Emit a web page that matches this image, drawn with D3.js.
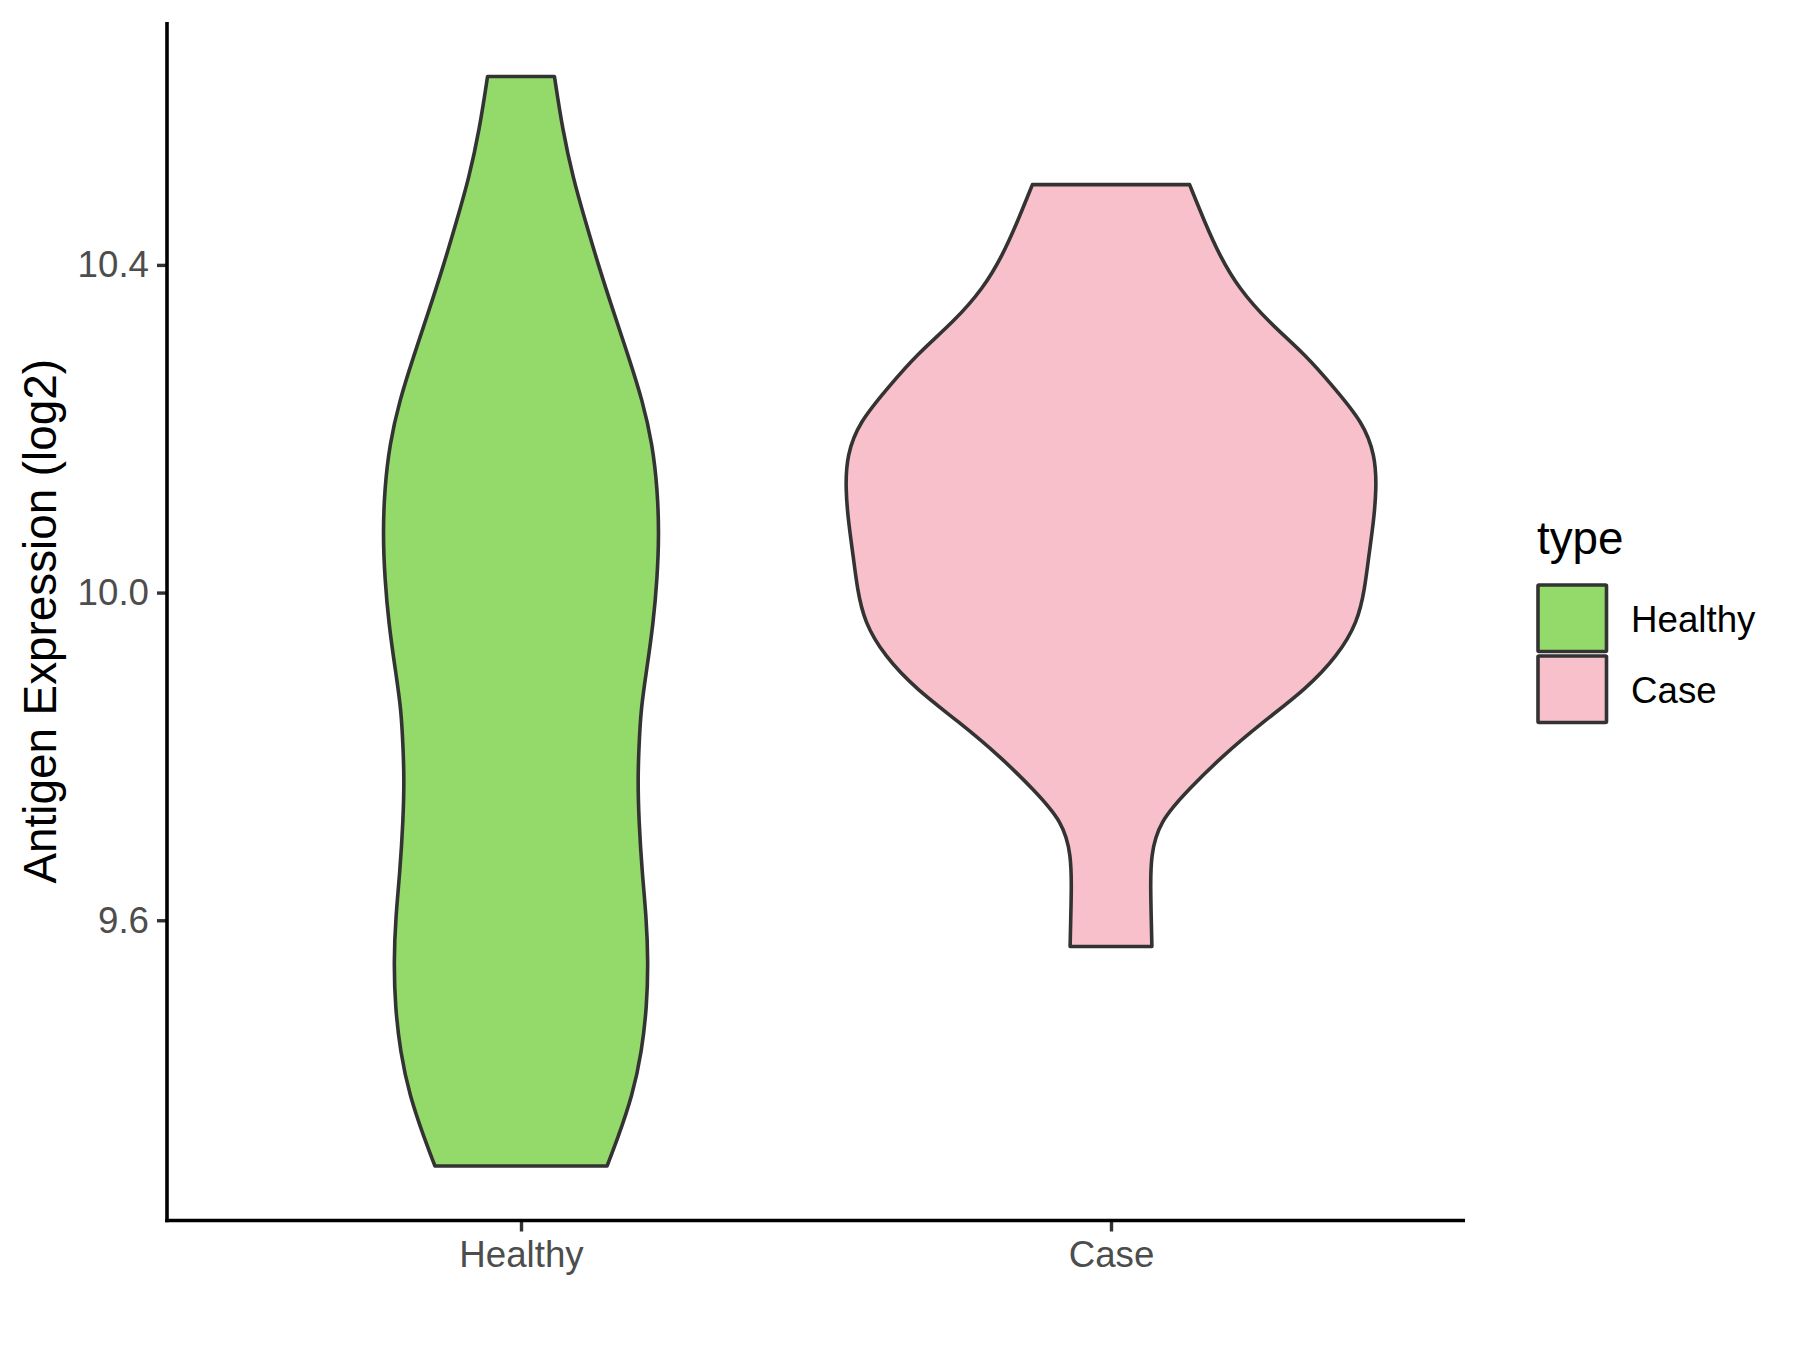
<!DOCTYPE html>
<html>
<head>
<meta charset="utf-8">
<script src="https://cdn.jsdelivr.net/npm/d3@7"></script>
<style>
  html, body { margin: 0; padding: 0; background: #ffffff; }
  svg { display: block; }
  text { font-family: "Liberation Sans", Arial, sans-serif; }
</style>
</head>
<body>
<svg id="chart" width="1800" height="1350"></svg>
<script>
// ---- data ----
const categories = ["Healthy", "Case"];
const yTicks = [9.6, 10.0, 10.4];
const yTitle = "Antigen Expression (log2)";
const legendTitle = "type";

// violin outline: expression level and relative density (1 = widest violin)
const healthyLevels = [10.630, 10.566, 10.506, 10.453, 10.398, 10.344, 10.289, 10.234, 10.181, 10.126,
                       10.071, 10.017, 9.962, 9.907, 9.857, 9.809, 9.772, 9.721, 9.659, 9.604,
                       9.550, 9.495, 9.440, 9.386, 9.331, 9.300];
const healthyDensity = [0.126, 0.156, 0.196, 0.243, 0.293, 0.347, 0.404, 0.458, 0.495, 0.514,
                        0.520, 0.513, 0.498, 0.474, 0.451, 0.444, 0.440, 0.444, 0.456, 0.472,
                        0.479, 0.474, 0.455, 0.420, 0.361, 0.324];
const caseLevels = [10.498, 10.453, 10.412, 10.371, 10.331, 10.290, 10.249, 10.208, 10.168, 10.127,
                    10.086, 10.045, 10.005, 9.964, 9.923, 9.882, 9.842, 9.801, 9.760, 9.720,
                    9.679, 9.638, 9.597, 9.568];
const caseDensity = [0.296, 0.352, 0.408, 0.482, 0.591, 0.734, 0.843, 0.948, 0.995, 1.000,
                     0.989, 0.971, 0.956, 0.929, 0.854, 0.734, 0.572, 0.421, 0.293, 0.181,
                     0.150, 0.149, 0.152, 0.154];

const fillColors = { Healthy: "#93DA6A", Case: "#F7C0CB" };

// ---- layout ----
const panel = { left: 167, right: 1465, top: 22, bottom: 1220.5 };
const svg = d3.select("#chart");

const allLevels = healthyLevels.concat(caseLevels);
const lo = d3.min(allLevels), hi = d3.max(allLevels);
const pad = (hi - lo) * 0.05;
const y = d3.scaleLinear().domain([lo - pad, hi + pad]).range([panel.bottom, panel.top]);
const x = d3.scalePoint().domain(categories).range([panel.left, panel.right]).padding(0.6);
const halfWidth = d3.scaleLinear().domain([0, 1]).range([0, 0.45 * x.step()]);

const groups = [
  { name: "Healthy", levels: healthyLevels, density: healthyDensity },
  { name: "Case", levels: caseLevels, density: caseDensity }
];

// violins
groups.forEach(g => {
  const pts = g.levels.map((v, i) => ({ v, d: g.density[i] }));
  const cx = x(g.name);
  const area = d3.area()
    .y(p => y(p.v))
    .x0(p => cx - halfWidth(p.d))
    .x1(p => cx + halfWidth(p.d))
    .curve(d3.curveBasis);
  svg.append("path")
    .datum(pts)
    .attr("d", area)
    .attr("fill", fillColors[g.name])
    .attr("stroke", "#333333")
    .attr("stroke-width", 3.6)
    .attr("stroke-linejoin", "round");
});

// y axis
const yAxis = d3.axisLeft(y).tickValues(yTicks).tickFormat(d3.format(".1f")).tickSize(10).tickPadding(8);
const gy = svg.append("g").attr("transform", `translate(${panel.left},0)`).call(yAxis);
gy.select(".domain").remove();
gy.selectAll(".tick line").attr("stroke", "#333333").attr("stroke-width", 3.4);
gy.selectAll(".tick text").attr("fill", "#4D4D4D").attr("font-size", 36.7)
  .attr("font-family", "Liberation Sans, Arial, sans-serif");

// x axis
const xAxis = d3.axisBottom(x).tickSize(11).tickPadding(9);
const gx = svg.append("g").attr("transform", `translate(0,${panel.bottom})`).call(xAxis);
gx.select(".domain").remove();
gx.selectAll(".tick line").attr("stroke", "#333333").attr("stroke-width", 3.4);
gx.selectAll(".tick text").attr("fill", "#4D4D4D").attr("font-size", 36.7)
  .attr("font-family", "Liberation Sans, Arial, sans-serif");

// axis lines
svg.append("line").attr("x1", panel.left).attr("x2", panel.left)
  .attr("y1", panel.top).attr("y2", panel.bottom + 1.8)
  .attr("stroke", "#000").attr("stroke-width", 3.6);
svg.append("line").attr("x1", panel.left - 1.8).attr("x2", panel.right)
  .attr("y1", panel.bottom).attr("y2", panel.bottom)
  .attr("stroke", "#000").attr("stroke-width", 3.6);

// y title
svg.append("text")
  .attr("transform", `translate(56,${(panel.top + panel.bottom) / 2}) rotate(-90)`)
  .attr("text-anchor", "middle")
  .attr("font-size", 45.8)
  .attr("fill", "#000")
  .text(yTitle);

// legend
const leg = svg.append("g");
leg.append("text").attr("x", 1537).attr("y", 554).attr("font-size", 45.8).attr("fill", "#000").text(legendTitle);
const keySize = 68.5;
categories.forEach((c, i) => {
  const top = 585 + i * 71;
  leg.append("rect").attr("x", 1538).attr("y", top).attr("width", keySize).attr("height", keySize - 2)
    .attr("fill", fillColors[c]).attr("stroke", "#333333").attr("stroke-width", 3.6)
    .attr("rx", 1);
  leg.append("text").attr("x", 1631).attr("y", top + keySize / 2 + 12.5)
    .attr("font-size", 36.7).attr("fill", "#000").text(c);
});
</script>
</body>
</html>
